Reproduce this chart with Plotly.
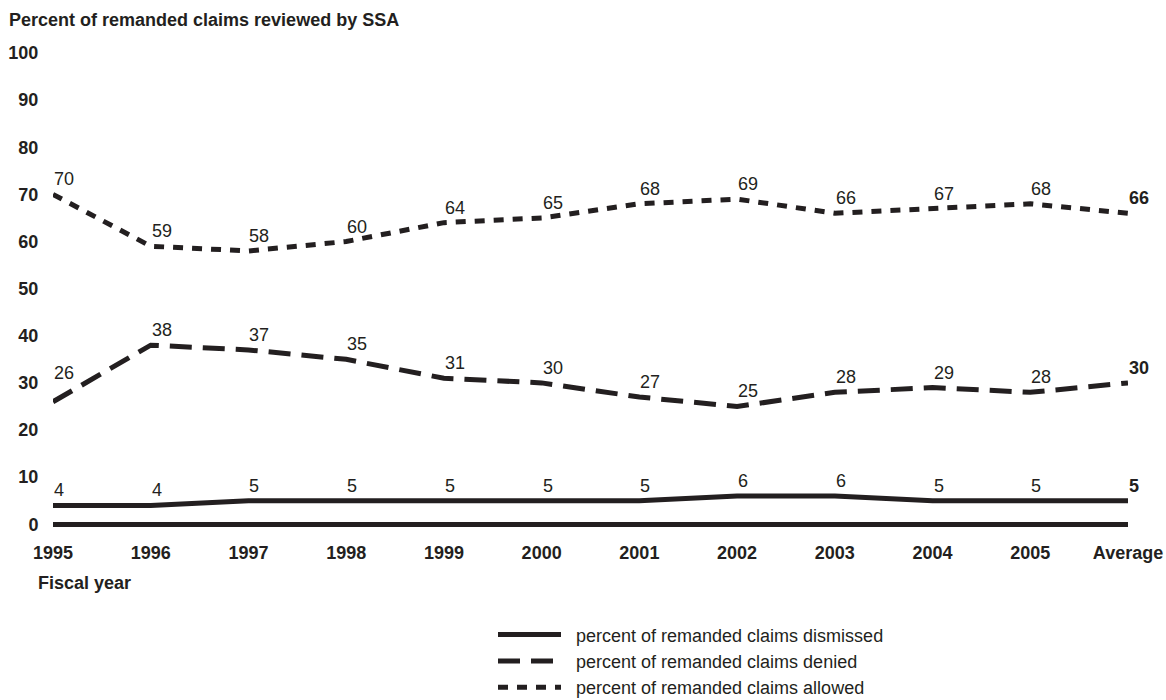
import plotly.graph_objects as go

years = ["1995", "1996", "1997", "1998", "1999", "2000", "2001", "2002", "2003", "2004", "2005", "Average"]
dismissed = [4, 4, 5, 5, 5, 5, 5, 6, 6, 5, 5, 5]
denied = [26, 38, 37, 35, 31, 30, 27, 25, 28, 29, 28, 30]
allowed = [70, 59, 58, 60, 64, 65, 68, 69, 66, 67, 68, 66]
y_ticks = [0, 10, 20, 30, 40, 50, 60, 70, 80, 90, 100]

INK = "#231f20"
FONT = "Liberation Sans, Arial, sans-serif"
xs = list(range(len(years)))
NBSP = "\u00a0\u00a0"

# plot area in pixels
PL, PR, PT, PB = 53, 1128, 53, 528.7
PW, PH = PR - PL, PB - PT

# extra vertical nudge (px) for labels that sit clear of a steep line
label_lift = {("denied", 0): 14}

fig = go.Figure()
series = [
    ("dismissed", "percent of remanded claims dismissed", dismissed, "solid"),
    ("denied", "percent of remanded claims denied", denied, "22px,11px"),
    ("allowed", "percent of remanded claims allowed", allowed, "10px,9px"),
]
annotations = []
for key, name, vals, dash in series:
    fig.add_trace(go.Scatter(
        x=xs, y=vals, name=NBSP + name, mode="lines",
        line=dict(color=INK, width=5, dash=dash),
        hoverinfo="skip",
    ))
    for i, v in enumerate(vals):
        txt = str(v) if i < len(vals) - 1 else "<b>%d</b>" % v
        annotations.append(dict(
            x=xs[i], y=v, xref="x", yref="y", text=txt, showarrow=False,
            xanchor="left", yanchor="bottom", xshift=-1,
            yshift=3 + label_lift.get((key, i), 0),
            font=dict(family=FONT, size=18, color=INK)))

annotations.append(dict(text="<b>Fiscal year</b>", xref="paper", yref="paper",
                        x=(36 - PL) / PW, y=(PB - 583) / PH,
                        xanchor="left", yanchor="middle", showarrow=False,
                        font=dict(family=FONT, size=18, color=INK)))

fig.update_layout(
    width=1166, height=700,
    margin=dict(l=PL, r=1166 - PR, t=PT, b=700 - PB, autoexpand=False),
    paper_bgcolor="white", plot_bgcolor="white",
    font=dict(family=FONT, size=18, color=INK),
    title=dict(text="<b>Percent of remanded claims reviewed by SSA</b>",
               x=9 / 1166, xanchor="left", xref="container",
               y=1 - 20 / 700, yanchor="middle", yref="container",
               font=dict(family=FONT, size=18, color=INK)),
    xaxis=dict(range=[0, len(years) - 1], tickmode="array", tickvals=xs,
               ticktext=["<b>%s</b>" % y for y in years],
               showgrid=False, zeroline=False, showline=False,
               ticks="outside", ticklen=7, tickcolor="rgba(0,0,0,0)",
               tickfont=dict(family=FONT, size=18, color=INK)),
    yaxis=dict(range=[-1, 100], tickmode="array", tickvals=y_ticks,
               ticktext=["<b>%d</b>" % v for v in y_ticks],
               showgrid=False, showline=False,
               zeroline=True, zerolinecolor=INK, zerolinewidth=5,
               ticks="outside", ticklen=10, tickcolor="rgba(0,0,0,0)",
               tickfont=dict(family=FONT, size=18, color=INK)),
    legend=dict(x=(493 - PL) / PW, xanchor="left",
                y=(PB - 616) / PH, yanchor="top",
                font=dict(family=FONT, size=18, color=INK),
                bgcolor="rgba(0,0,0,0)", itemwidth=63,
                tracegroupgap=0),
    showlegend=True,
    annotations=annotations,
)

fig.write_html("out.html", config={"displayModeBar": False},
               post_script="document.body.style.margin='0';")
